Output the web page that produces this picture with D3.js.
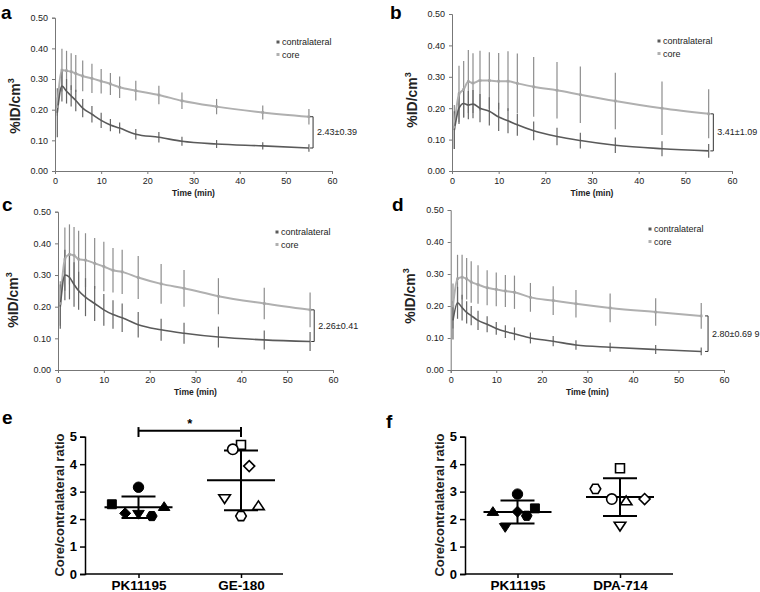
<!DOCTYPE html>
<html><head><meta charset="utf-8">
<script src="https://cdn.jsdelivr.net/npm/d3@7"></script>
<style>body{margin:0;background:#fff}svg{display:block}text{font-family:"Liberation Sans",Arial,sans-serif}</style>
</head><body>
<svg id="c" width="760" height="592"></svg>
<script>
// ---- data ----
const timePoints = [0.5,1.5,2.5,3.5,4.5,6,8,10,12,14,17.5,22.5,27.5,35,45,55];
const xTicks = [0,10,20,30,40,50,60];
const yTicks = [0,0.1,0.2,0.3,0.4,0.5];
const seriesNames = ["contralateral","core"];

const aContra   = [0.19,0.277,0.26,0.245,0.23,0.205,0.185,0.165,0.15,0.14,0.12,0.11,0.097,0.088,0.082,0.075];
const aContraSD = [0.08,0.05,0.04,0.035,0.035,0.03,0.027,0.025,0.02,0.018,0.017,0.017,0.015,0.013,0.012,0.012];
const aCore     = [0.21,0.329,0.327,0.324,0.318,0.31,0.302,0.293,0.284,0.273,0.262,0.248,0.229,0.21,0.191,0.177];
const aCoreSD   = [0.03,0.07,0.065,0.06,0.06,0.05,0.048,0.04,0.036,0.035,0.032,0.03,0.027,0.025,0.023,0.025];

const bContra   = [0.13,0.2,0.215,0.21,0.213,0.2,0.19,0.172,0.16,0.147,0.128,0.11,0.097,0.082,0.071,0.064];
const bContraSD = [0.06,0.05,0.045,0.045,0.045,0.045,0.045,0.045,0.04,0.035,0.03,0.028,0.025,0.025,0.024,0.022];
const bCore     = [0.14,0.245,0.26,0.285,0.28,0.288,0.288,0.286,0.286,0.279,0.268,0.257,0.243,0.223,0.2,0.182];
const bCoreSD   = [0.07,0.09,0.09,0.1,0.095,0.095,0.09,0.09,0.095,0.095,0.095,0.09,0.09,0.09,0.085,0.078];

const cContra   = [0.2,0.3,0.293,0.27,0.25,0.23,0.21,0.19,0.175,0.165,0.143,0.127,0.116,0.104,0.095,0.09];
const cContraSD = [0.07,0.08,0.07,0.07,0.06,0.06,0.055,0.05,0.045,0.045,0.04,0.035,0.033,0.033,0.03,0.03];
const cCore     = [0.21,0.35,0.365,0.362,0.35,0.347,0.337,0.327,0.315,0.31,0.292,0.272,0.258,0.233,0.21,0.19];
const cCoreSD   = [0.07,0.1,0.095,0.09,0.09,0.085,0.08,0.078,0.07,0.07,0.068,0.063,0.058,0.057,0.05,0.055];

const dContra   = [0.155,0.21,0.195,0.18,0.17,0.155,0.143,0.13,0.12,0.113,0.1,0.09,0.078,0.071,0.064,0.058];
const dContraSD = [0.06,0.05,0.04,0.035,0.03,0.03,0.025,0.02,0.02,0.02,0.017,0.016,0.015,0.014,0.014,0.012];
const dCore     = [0.2,0.285,0.29,0.285,0.275,0.267,0.257,0.252,0.247,0.243,0.227,0.217,0.207,0.194,0.181,0.169];
const dCoreSD   = [0.07,0.075,0.07,0.065,0.065,0.06,0.055,0.053,0.05,0.052,0.045,0.045,0.043,0.045,0.043,0.04];

const ratioLabels = ["2.43±0.39","3.41±1.09","2.26±0.41","2.80±0.69 9"];

const eCategories = ["PK11195","GE-180"];
const fCategories = ["PK11195","DPA-714"];
const ratioTicks = [0,1,2,3,4,5];
const symbolOrder = ["square","circle","diamond","triangleDown","hexagon","triangle"];
// [offset, value] per symbol (offset in category-step units)
const ePK     = [[-0.26,2.54],[0,3.16],[-0.13,2.21],[0,2.18],[0.13,2.11],[0.25,2.45]];
const eGE     = [[0,4.70],[-0.08,4.54],[0.08,3.93],[-0.16,2.75],[0,2.11],[0.17,2.48]];
const eMeanSD = [[2.43,0.39],[3.41,1.09]];
const fPK     = [[0.17,2.39],[0,2.91],[0,2.27],[-0.12,1.70],[0.09,2.12],[-0.24,2.27]];
const fDPA    = [[0,3.85],[-0.08,2.73],[0.24,2.73],[0,1.75],[-0.24,3.10],[0.06,2.66]];
const fMeanSD = [[2.26,0.42],[2.80,0.69]];

// ---- drawing ----
const svg = d3.select("#c");
const contraColor = "#5a5a5a", coreColor = "#b0b0b0";

function linePanel(o){
  const g = svg.append("g");
  const x = d3.scaleLinear().domain([0,60]).range([o.x0,o.x1]);
  const y = d3.scaleLinear().domain([0,0.5]).range([o.y0,o.y1]);
  const xa = g.append("g").attr("transform",`translate(0,${o.y0})`)
    .call(d3.axisBottom(x).tickValues(xTicks).tickSize(3).tickPadding(4).tickFormat(d3.format("d")));
  const ya = g.append("g").attr("transform",`translate(${o.x0},0)`)
    .call(d3.axisLeft(y).tickValues(yTicks).tickSize(3).tickPadding(4).tickFormat(d3.format(".2f")));
  [xa,ya].forEach(a=>{a.selectAll("path,line").attr("stroke","#777");
    a.selectAll("text").attr("font-size",9).attr("fill","#222");});
  const line = d3.line().x((d,i)=>x(timePoints[i])).y(d=>y(d)).curve(d3.curveMonotoneX);
  const bars = (vals,sds,col)=>g.append("g").selectAll("line").data(vals).join("line")
    .attr("x1",(d,i)=>x(timePoints[i])).attr("x2",(d,i)=>x(timePoints[i]))
    .attr("y1",(d,i)=>y(d+sds[i])).attr("y2",(d,i)=>y(d-sds[i]))
    .attr("stroke",col).attr("stroke-width",1.2);
  bars(o.core,o.coreSD,"#8d8d8d");
  bars(o.contra,o.contraSD,"#666");
  g.append("path").datum(o.core).attr("d",line).attr("fill","none").attr("stroke",coreColor).attr("stroke-width",2);
  g.append("path").datum(o.contra).attr("d",line).attr("fill","none").attr("stroke",contraColor).attr("stroke-width",1.6);
  g.append("g").selectAll("rect").data(o.core).join("rect")
    .attr("x",(d,i)=>x(timePoints[i])-1.3).attr("y",d=>y(d)-1.3).attr("width",2.6).attr("height",2.6).attr("fill","#a5a5a5");
  const bx = x(o.bx), yt = y(o.core[o.core.length-1]), yb = y(o.contra[o.contra.length-1]);
  g.append("path").attr("d",`M${bx-3},${yt}H${bx}V${yb}H${bx-3}`).attr("fill","none").attr("stroke","#333").attr("stroke-width",1);
  g.append("text").attr("x",bx+4).attr("y",(yt+yb)/2+3).attr("font-size",9).attr("fill","#222").text(o.label);
  seriesNames.forEach((n,i)=>{
    g.append("rect").attr("x",o.lx-1.5).attr("y",o.ly+i*12.5-1.5).attr("width",3).attr("height",3).attr("fill",i?coreColor:contraColor);
    g.append("text").attr("x",o.lx+4).attr("y",o.ly+i*12.5+3.2).attr("font-size",9).attr("fill","#222").text(n);
  });
  g.append("text").attr("x",(o.x0+o.x1)/2).attr("y",o.y0+25).attr("text-anchor","middle")
    .attr("font-size",8.5).attr("font-weight","bold").attr("fill","#222").text("Time (min)");
  const yt2 = g.append("text").attr("transform",`translate(${o.tx},${o.ty}) rotate(-90)`).attr("text-anchor","middle")
    .attr("font-size",14).attr("font-weight","bold").attr("fill","#222");
  yt2.append("tspan").text("%ID/cm");
  yt2.append("tspan").attr("font-size",9).attr("dy",-6).text("3");
  svg.append("text").attr("x",o.lpx).attr("y",o.lpy).attr("font-size",19).attr("font-weight","bold").text(o.letter);
}

linePanel({x0:55,x1:332,y0:171,y1:17.7,contra:aContra,contraSD:aContraSD,core:aCore,coreSD:aCoreSD,
  bx:55.9,label:ratioLabels[0],lx:278,ly:42,tx:20,ty:106,letter:"a",lpx:1,lpy:19});
linePanel({x0:452,x1:732,y0:171,y1:14,contra:bContra,contraSD:bContraSD,core:bCore,coreSD:bCoreSD,
  bx:56,label:ratioLabels[1],lx:659,ly:41,tx:417,ty:100,letter:"b",lpx:390,lpy:19});
linePanel({x0:58,x1:333,y0:370,y1:211.7,contra:cContra,contraSD:cContraSD,core:cCore,coreSD:cCoreSD,
  bx:55.9,label:ratioLabels[2],lx:277,ly:232,tx:18,ty:300,letter:"c",lpx:2,lpy:211});
linePanel({x0:450.7,x1:724,y0:370,y1:210,contra:dContra,contraSD:dContraSD,core:dCore,coreSD:dCoreSD,
  bx:56.5,label:ratioLabels[3],lx:650,ly:229,tx:415,ty:296,letter:"d",lpx:392,lpy:211});

function hexPath(r){const p=[];for(let k=0;k<6;k++){const a=Math.PI/3*k;p.push([r*Math.cos(a),r*Math.sin(a)]);}return "M"+p.map(q=>q.join(",")).join("L")+"Z";}
function symPath(name){
  const r=5;
  if(name==="square") return d3.symbol(d3.symbolSquare,80)();
  if(name==="circle") return d3.symbol(d3.symbolCircle,85)();
  if(name==="diamond") return `M0,${-r-0.5}L${r+0.5},0L0,${r+0.5}L${-r-0.5},0Z`;
  if(name==="triangle") return `M0,${-r}L${r+0.8},${r*0.75}L${-r-0.8},${r*0.75}Z`;
  if(name==="triangleDown") return `M0,${r}L${r+0.8},${-r*0.75}L${-r-0.8},${-r*0.75}Z`;
  return hexPath(5.3);
}

function dotPanel(o){
  const g = svg.append("g");
  const y = d3.scaleLinear().domain([0,5]).range([574,436.7]);
  const x = d3.scalePoint().domain(o.cats).range([o.c0,o.c1]);
  const step = o.c1-o.c0;
  const ya = g.append("g").attr("transform",`translate(${o.ax0},0)`)
    .call(d3.axisLeft(y).tickValues(ratioTicks).tickSize(5).tickPadding(3).tickFormat(d3.format("d")));
  ya.select("path").attr("stroke","#000").attr("stroke-width",1.5);
  ya.selectAll("line").attr("stroke","#000").attr("stroke-width",1.5);
  ya.selectAll("text").attr("font-size",13).attr("font-weight","bold").attr("fill","#000");
  const xa = g.append("g").attr("transform",`translate(0,574)`)
    .call(d3.axisBottom(x).tickSize(4).tickPadding(2));
  xa.select("path").attr("d",`M${o.ax0},0H${o.ax1}`).attr("stroke","#000").attr("stroke-width",1.5);
  xa.selectAll("line").attr("stroke","#000").attr("stroke-width",1.5);
  xa.selectAll("text").attr("font-size",13.5).attr("font-weight","bold").attr("fill","#000");
  g.append("text").attr("transform",`translate(${o.tx},505) rotate(-90)`).attr("text-anchor","middle")
    .attr("font-size",13).attr("font-weight","bold").attr("fill","#222").text("Core/contralateral ratio");
  o.groups.forEach((pts,gi)=>{
    const cx = x(o.cats[gi]);
    const [m,sd] = o.msd[gi];
    const hw = o.meanHalf, cw = o.capHalf;
    g.append("line").attr("x1",cx-hw).attr("x2",cx+hw).attr("y1",y(m)).attr("y2",y(m)).attr("stroke","#000").attr("stroke-width",2);
    g.append("line").attr("x1",cx).attr("x2",cx).attr("y1",y(m+sd)).attr("y2",y(m-sd)).attr("stroke","#000").attr("stroke-width",2);
    [m+sd,m-sd].forEach(v=>g.append("line").attr("x1",cx-cw).attr("x2",cx+cw).attr("y1",y(v)).attr("y2",y(v)).attr("stroke","#000").attr("stroke-width",2));
    pts.forEach((p,k)=>{
      g.append("path").attr("d",symPath(symbolOrder[k]))
        .attr("transform",`translate(${cx+p[0]*step},${y(p[1])})`)
        .attr("fill",gi===0?"#000":"#fff").attr("stroke","#000").attr("stroke-width",gi===0?1:1.6);
    });
  });
  if(o.sig){
    const yb=y(5.22), x1=x(o.cats[0]), x2=x(o.cats[1]);
    g.append("line").attr("x1",x1).attr("x2",x2).attr("y1",yb).attr("y2",yb).attr("stroke","#000").attr("stroke-width",2);
    [x1,x2].forEach(xx=>g.append("line").attr("x1",xx).attr("x2",xx).attr("y1",y(5.35)).attr("y2",y(4.99)).attr("stroke","#000").attr("stroke-width",2));
    g.append("text").attr("x",(x1+x2)/2).attr("y",yb-3).attr("text-anchor","middle").attr("font-size",13).attr("font-weight","bold").text("*");
  }
  svg.append("text").attr("x",o.lpx).attr("y",o.lpy).attr("font-size",19).attr("font-weight","bold").text(o.letter);
}

dotPanel({cats:eCategories,groups:[ePK,eGE],msd:eMeanSD,c0:138.5,c1:241,ax0:85,ax1:283,tx:64,
  meanHalf:34,capHalf:17,sig:true,letter:"e",lpx:2,lpy:424});
dotPanel({cats:fCategories,groups:[fPK,fDPA],msd:fMeanSD,c0:517.5,c1:620,ax0:465,ax1:673,tx:444,
  meanHalf:34,capHalf:17,sig:false,letter:"f",lpx:386,lpy:428});
</script>
</body></html>
